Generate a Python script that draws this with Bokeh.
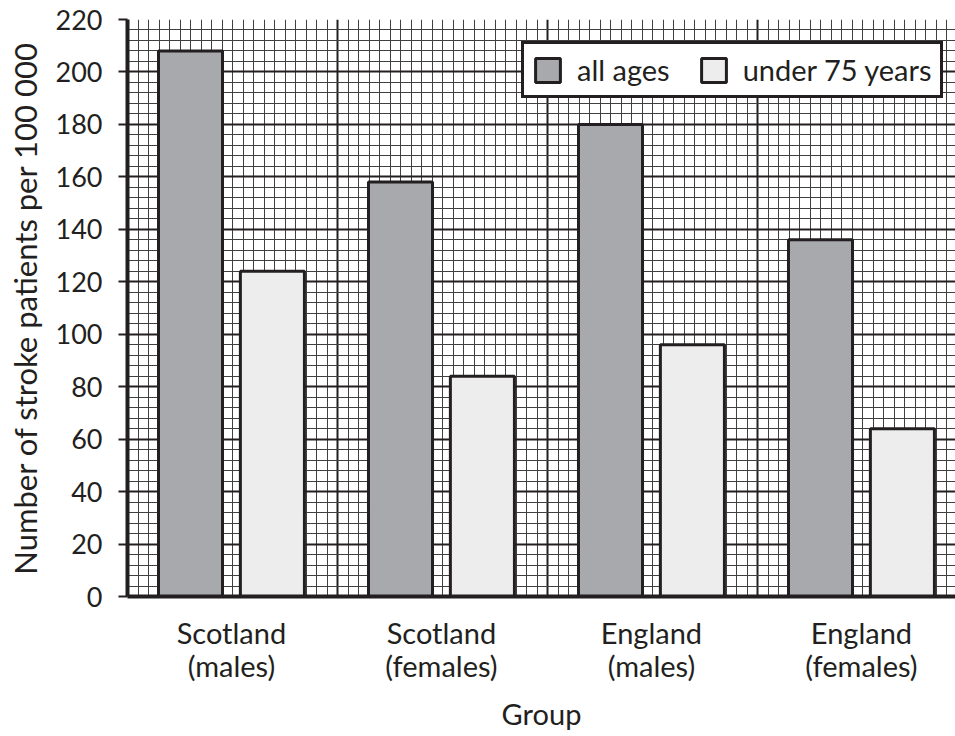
from bokeh.plotting import figure
from bokeh.models import FixedTicker, Range1d
from bokeh.embed import file_html
from bokeh.resources import INLINE

groups = ["Scotland\n(males)", "Scotland\n(females)", "England\n(males)", "England\n(females)"]
all_ages = [208, 158, 180, 136]
under_75 = [124, 84, 96, 64]
y_ticks = [0, 20, 40, 60, 80, 100, 120, 140, 160, 180, 200, 220]

FONT = "Lato"
INK = "#231f20"

p = figure(width=955, height=736, output_backend="svg", toolbar_location=None,
           x_range=Range1d(0, 828 / 210), y_range=Range1d(0, 220),
           min_border_left=127, min_border_top=19, min_border_right=0, min_border_bottom=140)
p.outline_line_color = None
p.background_fill_color = "white"

centers = [i + 0.495 for i in range(len(groups))]
x_all = [c - 0.195 for c in centers]
x_u75 = [c + 0.195 for c in centers]

p.vbar(x=x_all, top=all_ages, width=0.305, fill_color="#a7a9ac", line_color=INK,
       line_width=3, legend_label="all ages")
p.vbar(x=x_u75, top=under_75, width=0.305, fill_color="#ededed", line_color=INK,
       line_width=3, legend_label="under 75 years")

# graph-paper grid
xg = p.xgrid[0]
xg.ticker = FixedTicker(ticks=[1, 2, 3], minor_ticks=[round(k * 0.05, 4) for k in range(1, 79) if k % 20 != 0])
xg.grid_line_color = INK
xg.grid_line_width = 2
xg.minor_grid_line_color = "#404040"
xg.minor_grid_line_width = 1

yg = p.ygrid[0]
yg.ticker = FixedTicker(ticks=list(range(20, 201, 20)),
                        minor_ticks=[v for v in range(4, 221, 4) if v % 20 != 0] + [220])
yg.grid_line_color = INK
yg.grid_line_width = 2
yg.minor_grid_line_color = "#404040"
yg.minor_grid_line_width = 1

# y axis
ya = p.yaxis[0]
ya.ticker = FixedTicker(ticks=y_ticks, minor_ticks=[])
ya.axis_line_color = INK
ya.axis_line_width = 4
ya.major_tick_line_color = INK
ya.major_tick_line_width = 2
ya.major_tick_out = 9
ya.major_tick_in = 0
ya.minor_tick_line_color = None
ya.major_label_standoff = 16
ya.major_label_text_font = FONT
ya.major_label_text_font_size = "27px"
ya.major_label_text_color = INK
ya.axis_label = "Number of stroke patients per 100 000"
ya.axis_label_text_font = FONT
ya.axis_label_text_font_size = "31px"
ya.axis_label_text_font_style = "normal"
ya.axis_label_text_color = INK
ya.axis_label_standoff = 9

# x axis
xa = p.xaxis[0]
xa.ticker = FixedTicker(ticks=centers, minor_ticks=[])
xa.major_label_overrides = {c: g for c, g in zip(centers, groups)}
xa.axis_line_color = INK
xa.axis_line_width = 4
xa.major_tick_line_color = None
xa.minor_tick_line_color = None
xa.major_label_standoff = 12
xa.major_label_text_font = FONT
xa.major_label_text_font_size = "29px"
xa.major_label_text_line_height = 0.97
xa.major_label_text_color = INK
xa.axis_label = "Group"
xa.axis_label_text_font = FONT
xa.axis_label_text_font_size = "29px"
xa.axis_label_text_font_style = "normal"
xa.axis_label_text_color = INK
xa.axis_label_standoff = 10

lg = p.legend[0]
lg.orientation = "horizontal"
lg.location = (394, 498)
lg.margin = 0
lg.padding = 8
lg.spacing = 28
lg.label_standoff = 14
lg.glyph_width = 31
lg.glyph_height = 30
lg.label_height = 30
lg.label_text_font = FONT
lg.label_text_font_size = "29px"
lg.label_text_color = INK
lg.border_line_color = INK
lg.border_line_width = 3
lg.border_line_alpha = 1
lg.background_fill_color = "white"
lg.background_fill_alpha = 1

open("out.html", "w").write(file_html(p, INLINE))
